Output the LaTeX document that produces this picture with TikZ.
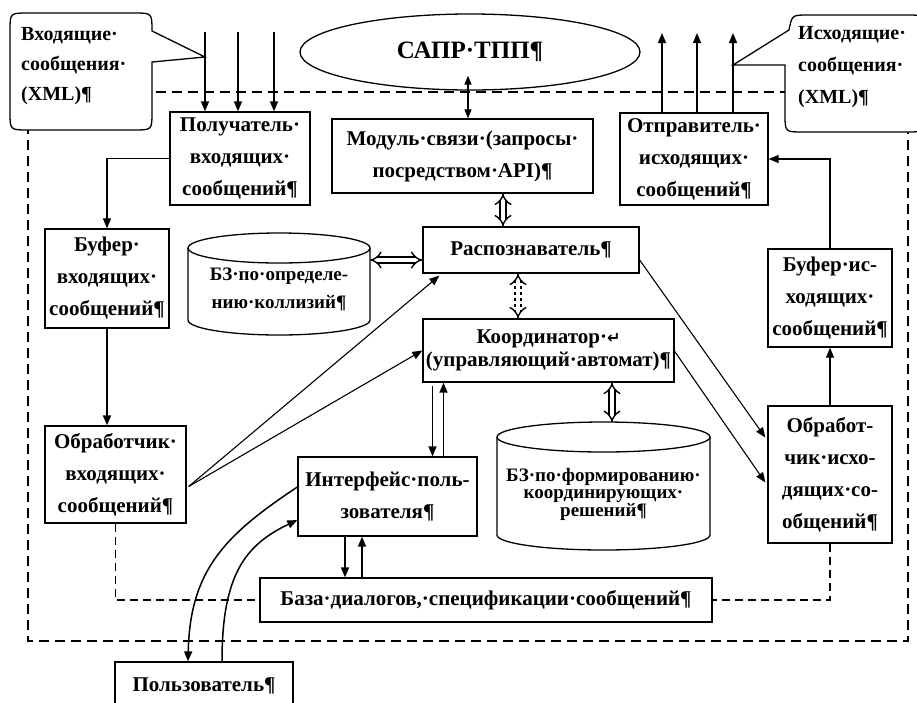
\documentclass[tikz,border=0pt]{standalone}
\usepackage{fontspec}
\setmainfont{Liberation Serif}
\newfontfamily\symf{DejaVu Sans}
\usetikzlibrary{arrows.meta,calc,shapes.geometric}
\begin{document}
\begin{tikzpicture}[x=1pt,y=-1pt,
  txt/.style={font=\bfseries\fontsize{21}{32}\selectfont, align=center, inner sep=0pt},
  box/.style={txt, draw, line width=1.3pt, fill=white},
  arr/.style={line width=1.5pt, -{Triangle[length=10pt,width=8pt]}},
  thinarr/.style={line width=1.1pt, -{Triangle[length=10pt,width=8pt]}},
  arrb/.style={line width=1.2pt, {Triangle[length=9pt,width=7pt]}-{Triangle[length=9pt,width=7pt]}},
  hol/.style={line width=1.4pt, double, double distance=4.5pt, {Implies}-{Implies}},
  frameline/.style={dash pattern=on 10pt off 6pt, line width=1.2pt},
  dline/.style={dash pattern=on 8pt off 5pt, line width=1.1pt},
  shp/.style={line width=1.3pt, fill=white},
]
\path[use as bounding box] (0,0) rectangle (917,702);
\fill[white] (0,0) rectangle (917,702);
\clip (0,0) rectangle (917,702);

% outer dashed frame
\draw[frameline] (28,92) rectangle (908,641);

% callouts
\draw[shp] (205,57) -- (152,62) -- (152,112) .. controls (152,130) .. (134,130) -- (28,130)
  .. controls (10,130) .. (10,112) -- (10,31) .. controls (10,13) .. (28,13) -- (134,13)
  .. controls (152,13) .. (152,31) -- cycle;
\node[txt, align=left, anchor=west, font=\bfseries\fontsize{20}{30}\selectfont] (incall) at (21,66) {Входящие·\\сообщения·\\(XML)¶};

\draw[shp] (733,65) -- (785,65) -- (785,114) .. controls (785,132) .. (803,132) -- (907,132)
  .. controls (925,132) .. (925,114) -- (925,33) .. controls (925,15) .. (907,15) -- (808,15)
  .. controls (792,15) .. (789,30) -- cycle;
\node[txt, align=left, anchor=west, font=\bfseries\fontsize{20}{32}\selectfont] (outcall) at (798,67) {Исходящие·\\сообщения·\\(XML)¶};

% ellipse
\node[txt, draw, ellipse, line width=1.3pt, fill=white, minimum width=340pt, minimum height=76pt,
  font=\bfseries\fontsize{25}{27}\selectfont] (sapr) at (470,52) {САПР·ТПП¶};

% boxes
\node[box, minimum width=140pt, minimum height=93pt] (recv) at (240,158.5) {Получатель·\\входящих·\\сообщений¶};
\node[box, minimum width=261pt, minimum height=74pt] (modul) at (462.5,156) {Модуль·связи·(запросы·\\посредством·API)¶};
\node[box, minimum width=148pt, minimum height=92pt] (sender) at (694,159) {Отправитель·\\исходящих·\\сообщений¶};
\node[box, minimum width=124pt, minimum height=99pt] (bufin) at (107,278.5) {Буфер·\\входящих·\\сообщений¶};
\node[box, minimum width=141pt, minimum height=97pt] (procin) at (115.5,474.5) {Обработчик·\\входящих·\\сообщений¶};
\node[box, minimum width=216pt, minimum height=46pt] (recog) at (531,250) {Распознаватель¶};
\node[box, minimum width=251pt, minimum height=63pt, font=\bfseries\fontsize{21}{23}\selectfont] (coord) at (548.5,350.5) {Координатор·{\symf\fontsize{16}{23}\selectfont ↵}\\(управляющий·автомат)¶};
\node[box, minimum width=124pt, minimum height=98pt] (bufout) at (830,298) {Буфер·ис-\\ходящих·\\сообщений¶};
\node[box, minimum width=124pt, minimum height=137pt] (procout) at (830,474.5) {Обработ-\\чик·исхо-\\дящих·со-\\общений¶};
\node[box, minimum width=179pt, minimum height=79pt] (iface) at (387.5,496.5) {Интерфейс·поль-\\зователя¶};
\node[box, minimum width=452pt, minimum height=44pt] (base) at (486,600) {База·диалогов,·спецификации·сообщений¶};
\node[box, minimum width=178pt, minimum height=46pt, text depth=0pt] (user) at (204,685) {Пользователь¶};

% cylinders
\draw[shp] (188,248) -- (188,320) arc[start angle=180, end angle=360, x radius=91pt, y radius=15pt] -- (370,248);
\draw[line width=1.3pt] (279,248) ellipse [x radius=91pt, y radius=15pt];
\node[txt, minimum width=182pt, font=\bfseries\fontsize{19}{28}\selectfont] (cyl1) at (279,289) {БЗ·по·определе-\\нию·коллизий¶};

\draw[shp] (497,437) -- (497,535) arc[start angle=180, end angle=360, x radius=106.5pt, y radius=15pt] -- (710,437);
\draw[line width=1.3pt] (603.5,437) ellipse [x radius=106.5pt, y radius=15pt];
\node[txt, minimum width=213pt, font=\bfseries\fontsize{19}{17.5}\selectfont] (cyl2) at (603.5,494) {БЗ·по·формированию·\\координирующих·\\решений¶};
\coordinate (cyl2top) at (612,422);

% helper coordinates
\coordinate (sapra) at ($(sapr.south)+(-2,-15)$);
\coordinate (saprb) at ($(sapr.south)+(-2,0)$);
\coordinate (recogn) at ($(recog.north)+(-28,0)$);
\coordinate (recogs) at ($(recog.south)+(-13,0)$);
\coordinate (recogw) at ($(recog.west)+(0,10)$);
\coordinate (ifn1) at ($(iface.north)+(45,0)$);
\coordinate (ifn2) at ($(iface.north)+(56,0)$);
\coordinate (ifs1) at ($(iface.south)+(-42.5,0)$);
\coordinate (ifs2) at ($(iface.south)+(-25.5,0)$);

% incoming / outgoing arrows
\coordinate (in1) at (205,32);
\coordinate (in2) at (238,32);
\coordinate (in3) at (274,32);
\foreach \c in {in1,in2,in3} \draw[arr] (\c) -- (\c |- recv.north);
\coordinate (out1) at (662,33);
\coordinate (out2) at (697,33);
\coordinate (out3) at (733,33);
\foreach \c in {out1,out2,out3} \draw[arr] (\c |- sender.north) -- (\c);

% sapr <-> modul
\draw[arrb] (sapra) -- (saprb |- modul.north);

% left chain
\draw[thinarr] (recv.west) -| (bufin.north);
\draw[arr, line width=1.8pt] (bufin.south) -- (bufin.south |- procin.north);

% right chain
\draw[thinarr] (bufout.north) |- (sender.east);
\draw[thinarr] (procout.north) -- (bufout.south);

% hollow arrows
\draw[hol] (recogn |- modul.south) -- (recogn);
\draw[hol, dashed] (recogs) -- (recogs |- coord.north);
\draw[hol] (cyl1.east |- recogw) -- (recogw);
\draw[hol] (cyl2top |- coord.south) -- (cyl2top);

% diagonal arrows
\draw[thinarr] ($(procin.east)+(2,12)$) -- ($(recog.south west)+(17,2)$);
\draw[thinarr] ($(procin.east)+(2,12)$) -- (coord.west);
\draw[thinarr] ($(recog.east)+(0,10)$) -- ($(procout.west)+(-2,-37)$);
\draw[thinarr] ($(coord.north east)+(0,33)$) -- ($(procout.west)+(-2,8)$);

% coord <-> iface
\draw[arr] ($(ifn1 |- coord.south)+(0,3)$) -- (ifn1);
\draw[arr] (ifn2) -- (ifn2 |- coord.south);

% iface <-> base
\draw[arr] (ifs1) -- (ifs1 |- base.north);
\draw[arr] (ifs2 |- base.north) -- (ifs2);

% dashed links to base
\draw[dline] (procin.south) |- (base.west);
\draw[dline] (procout.south) |- (base.east);

% iface <-> user curves
\draw[arr] ($(iface.west)+(0,-9.5)$) .. controls (225,535) and (190,570) .. ($(user.north)+(-16,0)$);
\draw[arr] ($(user.north)+(18,0)$) .. controls (222,575) and (245,545) .. ($(iface.west)+(0,23.5)$);
\end{tikzpicture}
\end{document}
